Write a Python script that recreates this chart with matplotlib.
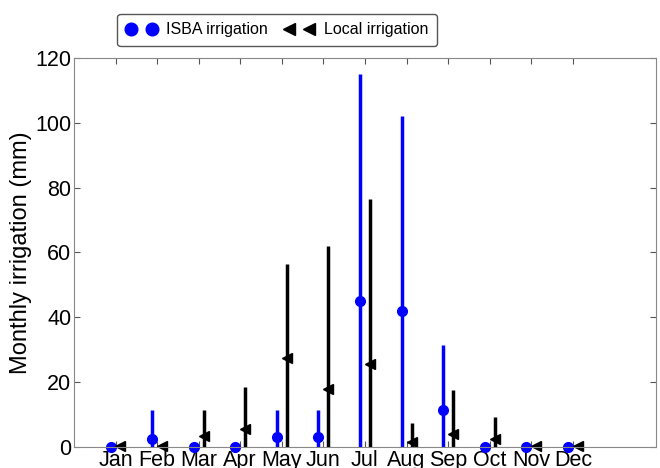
import numpy as np
import matplotlib.pyplot as plt

plt.rcParams['font.family'] = ['Liberation Sans', 'DejaVu Sans']

months = ['Jan', 'Feb', 'Mar', 'Apr', 'May', 'Jun', 'Jul', 'Aug', 'Sep', 'Oct', 'Nov', 'Dec']
isba_mean = [0, 2.5, 0, 0, 3, 3, 45, 42, 11.5, 0, 0, 0]
isba_max = [0, 11.5, 0, 0, 11.5, 11.5, 115, 102, 31.5, 0, 0, 0]
local_mean = [0.3, 0.3, 3.5, 5.5, 27.5, 18, 25.7, 1.5, 4, 2.5, 0.2, 0.2]
local_max = [0.3, 0.3, 11.5, 18.5, 56.3, 62, 76.5, 7.5, 17.5, 9.2, 0.2, 0.2]

x = np.arange(1, 13)
off = 0.12

fig = plt.figure(figsize=(6.6, 4.68), dpi=100)
ax = fig.add_axes([0.112, 0.045, 0.882, 0.831])

ax.vlines(x - off, 0, isba_max, color='blue', lw=2.5)
ax.vlines(x + off, 0, local_max, color='black', lw=2.5)
ax.plot(x - off, isba_mean, 'o', color='blue', ms=7, mec='blue', label='ISBA irrigation', clip_on=False)
ax.plot(x + off, local_mean, '<', color='black', ms=7, label='Local irrigation', clip_on=False)

ax.set_xlim(0, 14)
ax.set_ylim(0, 120)
ax.set_xticks(x)
ax.set_xticklabels(months)
ax.set_yticks(np.arange(0, 121, 20))
ax.tick_params(direction='in', top=True, right=True, labelsize=15.5, pad=2, length=4, color='#555555')
ax.set_ylabel('Monthly irrigation (mm)', fontsize=17, labelpad=2)
for s in ax.spines.values():
    s.set_color('#888888')

leg = fig.legend(loc='center', bbox_to_anchor=(0.42, 0.936), ncol=2, numpoints=2,
                 fontsize=11.5, fancybox=True, framealpha=1, edgecolor='#555555',
                 markerscale=1.3, handlelength=1.9, handletextpad=0.6,
                 columnspacing=1.0, borderpad=0.55, borderaxespad=0)

fig.savefig('out.png', dpi=100)
